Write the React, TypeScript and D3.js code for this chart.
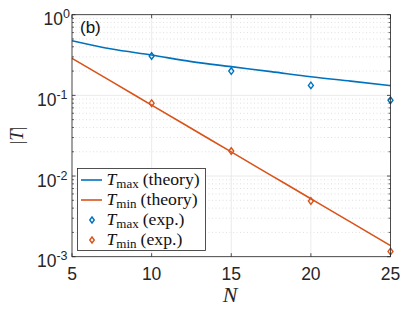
import React from "react";
import * as d3 from "d3";

// N values and read-off |T| values
const nTheory = [5, 7.5, 10, 12.5, 15, 17.5, 20, 22.5, 25];
const tmaxTheory = [0.476, 0.375, 0.316, 0.262, 0.227, 0.197, 0.17, 0.15, 0.132];
const tminTheory = [0.288, 0.148, 0.0757, 0.0388, 0.0199, 0.0102, 0.00523, 0.00268, 0.00137];

const nExp = [10, 15, 20, 25];
const tmaxExp = [0.308, 0.2, 0.133, 0.087];
const tminExp = [0.08, 0.0204, 0.0049, 0.00116];

const xTicks = [5, 10, 15, 20, 25];
const yDecades = [0, -1, -2, -3];

const BLUE = "#0072BD";
const ORANGE = "#D95319";

const W = 407;
const H = 309;
const m = { left: 72, right: 390.5, top: 14.7, bottom: 256.7 };

const x = d3.scaleLinear().domain([5, 25]).range([m.left, m.right]);
const y = d3.scaleLog().domain([1e-3, 1]).range([m.bottom, m.top]);

const minor: number[] = [];
for (let e = -3; e < 0; e++) for (let k = 2; k <= 9; k++) minor.push(k * Math.pow(10, e));

const line = d3
  .line<[number, number]>()
  .x((d) => x(d[0]))
  .y((d) => y(d[1]))
  .curve(d3.curveMonotoneX);

const diamond = (cx: number, cy: number, r = 3.3) =>
  `M${cx},${cy - r}L${cx + r * 0.75},${cy}L${cx},${cy + r}L${cx - r * 0.75},${cy}Z`;

const serif = "'Liberation Serif', 'Times New Roman', serif";
const sans = "Arial, Helvetica, 'Liberation Sans', sans-serif";

const Leg = ({ sub, rest }: { sub: string; rest: string }) => (
  <>
    <tspan fontStyle="italic">T</tspan>
    <tspan fontSize="13" dy="3">{sub}</tspan>
    <tspan dy="-3" dx="4">{rest}</tspan>
  </>
);

export default function App() {
  const legend = [
    { kind: "line", color: BLUE, sub: "max", rest: "(theory)" },
    { kind: "line", color: ORANGE, sub: "min", rest: "(theory)" },
    { kind: "mark", color: BLUE, sub: "max", rest: "(exp.)" },
    { kind: "mark", color: ORANGE, sub: "min", rest: "(exp.)" },
  ];
  return (
    <svg
      width={W}
      height={H}
      style={{ position: "absolute", left: 0, top: 0, background: "#fff" }}
    >
      <rect width={W} height={H} fill="#fff" />
      {/* minor grid */}
      {minor.map((v) => (
        <line
          key={"mg" + v}
          x1={m.left}
          x2={m.right}
          y1={y(v)}
          y2={y(v)}
          stroke="#d8d8d8"
          strokeWidth={0.8}
          strokeDasharray="1 2.5"
        />
      ))}
      {/* major grid */}
      {yDecades.map((e) => (
        <line
          key={"yg" + e}
          x1={m.left}
          x2={m.right}
          y1={y(Math.pow(10, e))}
          y2={y(Math.pow(10, e))}
          stroke="#e6e6e6"
          strokeWidth={0.8}
        />
      ))}
      {xTicks.map((t) => (
        <line
          key={"xg" + t}
          x1={x(t)}
          x2={x(t)}
          y1={m.top}
          y2={m.bottom}
          stroke="#e6e6e6"
          strokeWidth={0.8}
        />
      ))}
      {/* lines */}
      <path
        d={line(nTheory.map((n, i) => [n, tmaxTheory[i]]) as [number, number][]) || ""}
        fill="none"
        stroke={BLUE}
        strokeWidth={1.6}
      />
      <path
        d={line(nTheory.map((n, i) => [n, tminTheory[i]]) as [number, number][]) || ""}
        fill="none"
        stroke={ORANGE}
        strokeWidth={1.6}
      />
      {nExp.map((n, i) => (
        <path key={"a" + n} d={diamond(x(n), y(tmaxExp[i]))} fill="none" stroke={BLUE} strokeWidth={1.4} />
      ))}
      {nExp.map((n, i) => (
        <path key={"b" + n} d={diamond(x(n), y(tminExp[i]))} fill="none" stroke={ORANGE} strokeWidth={1.4} />
      ))}
      {/* axes box */}
      <rect
        x={m.left}
        y={m.top}
        width={m.right - m.left}
        height={m.bottom - m.top}
        fill="none"
        stroke="#262626"
        strokeWidth={0.8}
      />
      {/* ticks */}
      {xTicks.map((t) => (
        <g key={"xt" + t}>
          <line x1={x(t)} x2={x(t)} y1={m.bottom} y2={m.bottom - 3.5} stroke="#262626" strokeWidth={0.8} />
          <line x1={x(t)} x2={x(t)} y1={m.top} y2={m.top + 3.5} stroke="#262626" strokeWidth={0.8} />
          <text x={x(t)} y={279.5} textAnchor="middle" fontFamily={sans} fontSize={17.5} fill="#262626">
            {t}
          </text>
        </g>
      ))}
      {yDecades.map((e) => (
        <g key={"yt" + e}>
          <line x1={m.left} x2={m.left + 3.5} y1={y(Math.pow(10, e))} y2={y(Math.pow(10, e))} stroke="#262626" strokeWidth={0.8} />
          <line x1={m.right} x2={m.right - 3.5} y1={y(Math.pow(10, e))} y2={y(Math.pow(10, e))} stroke="#262626" strokeWidth={0.8} />
          <text
            x={e === 0 ? 70 : 67.5}
            y={y(Math.pow(10, e)) + 10.5}
            textAnchor="end"
            fontFamily={sans}
            fontSize={17.5}
            fill="#262626"
          >
            10
            <tspan fontSize={12.5} dy={-6.8}>
              {e === 0 ? "0" : "-" + -e}
            </tspan>
          </text>
        </g>
      ))}
      {minor.map((v) => (
        <g key={"mt" + v}>
          <line x1={m.left} x2={m.left + 2} y1={y(v)} y2={y(v)} stroke="#262626" strokeWidth={0.7} />
          <line x1={m.right} x2={m.right - 2} y1={y(v)} y2={y(v)} stroke="#262626" strokeWidth={0.7} />
        </g>
      ))}
      {/* labels */}
      <text x={80} y={33} fontFamily={sans} fontSize={17} fill="#111">
        (b)
      </text>
      <text x={230} y={301.5} textAnchor="middle" fontFamily={serif} fontStyle="italic" fontSize={22} fill="#262626">
        N
      </text>
      <text
        transform={`translate(23,135.5) rotate(-90)`}
        textAnchor="middle"
        fontFamily={serif}
        fontSize={19}
        fill="#262626"
      >
        |<tspan fontStyle="italic">T</tspan>|
      </text>
      {/* legend */}
      <rect x={77.5} y={168.5} width={128} height={82} fill="#fff" stroke="#262626" strokeWidth={0.8} />
      {legend.map((l, i) => {
        const cy = 180 + i * 20;
        return (
          <g key={"lg" + i}>
            {l.kind === "line" ? (
              <line x1={81} x2={102} y1={cy} y2={cy} stroke={l.color} strokeWidth={1.6} />
            ) : (
              <path d={diamond(92, cy, 3)} fill="none" stroke={l.color} strokeWidth={1.4} />
            )}
            <text x={106.5} y={cy + 5} fontFamily={serif} fontSize={17.7} fill="#111">
              <Leg sub={l.sub} rest={l.rest} />
            </text>
          </g>
        );
      })}
    </svg>
  );
}
